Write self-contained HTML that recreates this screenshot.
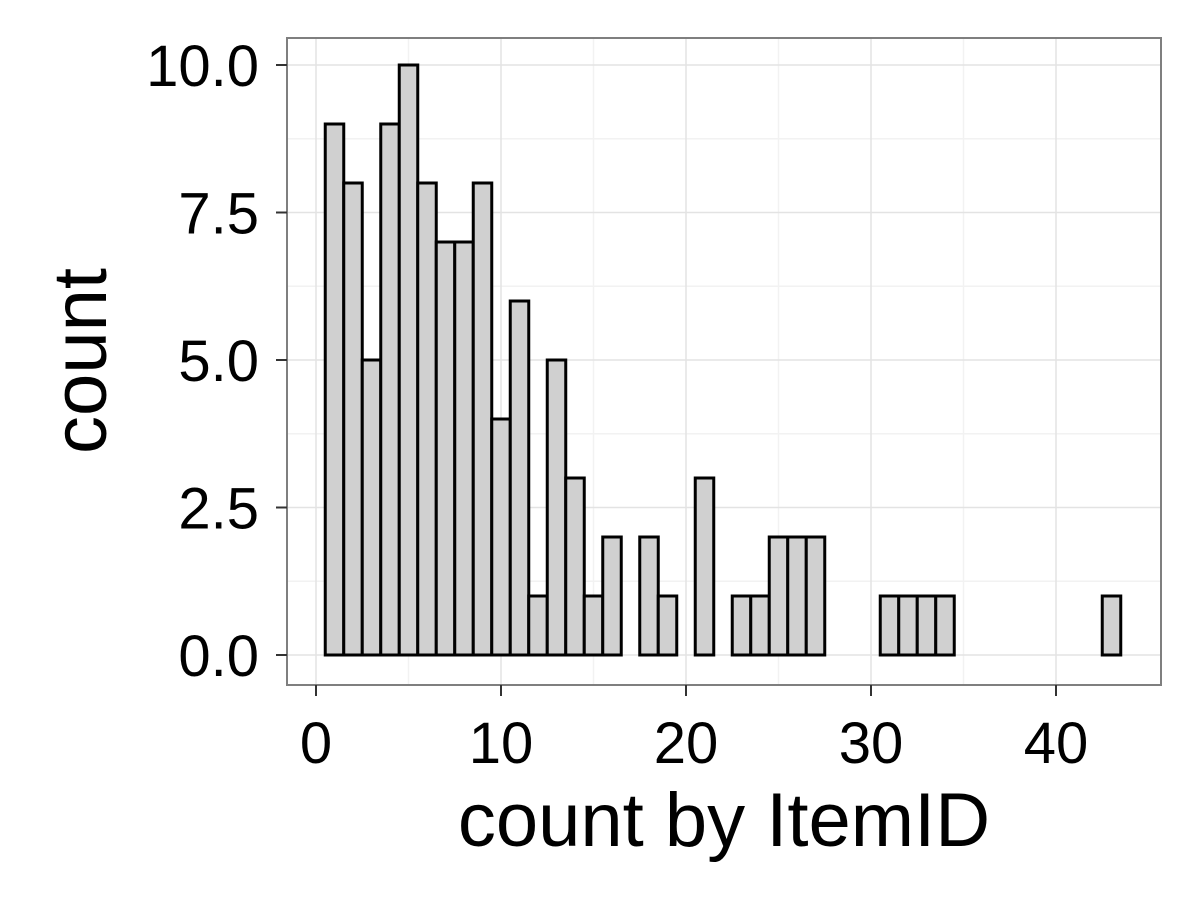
<!DOCTYPE html>
<html><head><meta charset="utf-8"><style>
html,body{margin:0;padding:0;background:#fff;}
svg{display:block;font-family:"Liberation Sans",sans-serif;}
</style></head><body>
<svg id="chart" width="1200" height="900"></svg>
<script>
const categories=[1,2,3,4,5,6,7,8,9,10,11,12,13,14,15,16,17,18,19,20,21,22,23,24,25,26,27,28,29,30,31,32,33,34,35,36,37,38,39,40,41,42,43];
const counts=[9,8,5,9,10,8,7,7,8,4,6,1,5,3,1,2,0,2,1,0,3,0,1,1,2,2,2,0,0,0,1,1,1,1,0,0,0,0,0,0,0,0,1];
const xTicks=[0,10,20,30,40];
const yTicks=[0,2.5,5,7.5,10];
const yTickLabels=["0.0","2.5","5.0","7.5","10.0"];
const xMinor=[5,15,25,35];
const yMinor=[1.25,3.75,6.25,8.75];

const svg=document.getElementById('chart');
const NS='http://www.w3.org/2000/svg';
const P={l:287,r:1161,t:38,b:685};
const xs=v=>316+v*18.5;
const ys=v=>655-v*59;
function mk(tag,attrs,parent){const e=document.createElementNS(NS,tag);for(const k in attrs)e.setAttribute(k,attrs[k]);(parent||svg).appendChild(e);return e;}

const panel=mk('rect',{x:P.l,y:P.t,width:P.r-P.l,height:P.b-P.t,fill:'#fff'});



xMinor.forEach(v=>{const l=mk('line',{x1:xs(v),x2:xs(v),y1:P.t,y2:P.b,stroke:'#f2f2f2','stroke-width':1.5});

});
yMinor.forEach(v=>{const l=mk('line',{x1:P.l,x2:P.r,y1:ys(v),y2:ys(v),stroke:'#f2f2f2','stroke-width':1.5});

});
xTicks.forEach(v=>{const l=mk('line',{x1:xs(v),x2:xs(v),y1:P.t,y2:P.b,stroke:'#e3e3e3','stroke-width':1.5});

});
yTicks.forEach(v=>{const l=mk('line',{x1:P.l,x2:P.r,y1:ys(v),y2:ys(v),stroke:'#e3e3e3','stroke-width':1.5});

});

categories.forEach((c,i)=>{
  if(counts[i]<=0)return;
  const b=mk('rect',{x:xs(c-0.5),y:ys(counts[i]),width:xs(c+0.5)-xs(c-0.5),height:ys(0)-ys(counts[i]),fill:'#d0d0d0',stroke:'#000','stroke-width':3});
  
  
});

const border=mk('rect',{x:P.l,y:P.t,width:P.r-P.l,height:P.b-P.t,fill:'none',stroke:'#7f7f7f','stroke-width':2});



yTicks.forEach((v,i)=>{
  const t=mk('line',{x1:P.l-11,x2:P.l,y1:ys(v),y2:ys(v),stroke:'#333','stroke-width':2});
  
  
  const tx=mk('text',{x:P.l-28,y:ys(v)+21,'text-anchor':'end','font-size':58,fill:'#000'});
  tx.textContent=yTickLabels[i];
  
  
});
xTicks.forEach(v=>{
  const t=mk('line',{x1:xs(v),x2:xs(v),y1:P.b,y2:P.b+11,stroke:'#333','stroke-width':2});
  
  
  const tx=mk('text',{x:xs(v),y:763,'text-anchor':'middle','font-size':58,fill:'#000'});
  tx.textContent=v;
  
  
});
const xt=mk('text',{x:724,y:846,'text-anchor':'middle','font-size':76,fill:'#000'});
xt.textContent='count by ItemID';


const yt=mk('text',{x:0,y:0,'text-anchor':'middle','font-size':76,fill:'#000',transform:'translate(106,361) rotate(-90)'});
yt.textContent='count';


</script>
</body></html>
